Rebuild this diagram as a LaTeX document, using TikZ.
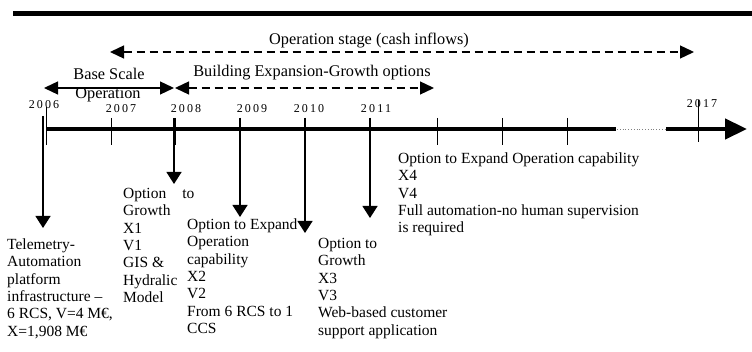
\documentclass[tikz,border=0pt]{standalone}
\usepackage{fontspec}
\setmainfont{Liberation Serif}
\newfontfamily\yearfont{Liberation Serif}[LetterSpace=18]
\usetikzlibrary{arrows.meta}

\newcommand{\firstline}{\rule{0pt}{12pt}}

\begin{document}
\begin{tikzpicture}[x=1pt,y=-1pt,
  blk/.style={anchor=north west, inner sep=0pt, align=left,
              font=\fontsize{15.5}{17.3}\selectfont},
  toplbl/.style={anchor=base, inner sep=0pt, font=\fontsize{16.3}{18.5}\selectfont},
  yr/.style={anchor=base, inner sep=0pt, font=\fontsize{12}{14}\selectfont\yearfont},
  spanarrow/.style={line width=1.3pt,
    {Triangle[length=14pt,width=13pt]}-{Triangle[length=14pt,width=13pt]}},
  dashspan/.style={spanarrow, dash pattern=on 8pt off 5pt},
  yeartick/.style={line width=1pt},
  droparrow/.style={line width=1.3pt, -{Triangle[length=12pt,width=15pt]}},
]
\useasboundingbox (0,0) rectangle (752,352);

% heading rule
\draw[line width=5pt] (13,14) -- (752,14);

% phase spans
\coordinate (opA) at (110,52);  \coordinate (opB) at (694,52);
\draw[dashspan] (opA) -- (opB);
\node[toplbl] (opLbl) at (369,45) {Operation stage (cash inflows)};

\coordinate (bsA) at (44,88);   \coordinate (bsB) at (174,88);
\draw[spanarrow] (bsA) -- (bsB);
\node[toplbl] (bsLbl1) at (109,80) {Base Scale};
\node[toplbl] (bsLbl2) at (108,99) {Operation};

\coordinate (bgA) at (175,88);  \coordinate (bgB) at (434,88);
\draw[dashspan] (bgA) -- (bgB);
\node[toplbl] (bgLbl) at (312,77) {Building Expansion-Growth options};

% time axis
\coordinate (axA) at (46,129);  \coordinate (axB) at (616,129);
\coordinate (axC) at (617,129); \coordinate (axD) at (666,129);
\coordinate (axE) at (747,129);
\draw[line width=4.5pt] (axA) -- (axB);
\draw[gray, line width=0.8pt, dotted] (axC) -- (axD);
\draw[line width=4.5pt, -{Triangle[length=22pt,width=20pt]}] (axD) -- (axE);

% year ticks
\draw[yeartick] (46,107) -- (46,145);
\foreach \tx in {111,175,240,305,370,437,502,567}
  \draw[yeartick] (\tx,118) -- (\tx,145);
\draw[yeartick] (698,100) -- (698,142);

% year labels
\node[yr] (y2006) at (44,109)  {2006};
\node[yr] (y2007) at (121,113) {2007};
\node[yr] (y2008) at (186,113) {2008};
\node[yr] (y2009) at (252,113) {2009};
\node[yr] (y2010) at (309,113) {2010};
\node[yr] (y2011) at (376,113) {2011};
\node[yr] (y2017) at (702,108) {2017};

% decision points
\coordinate (s06) at (43,116);  \coordinate (e06) at (43,228);
\coordinate (s08) at (174,118); \coordinate (e08) at (174,184);
\coordinate (s09) at (240,118); \coordinate (e09) at (240,217);
\coordinate (s10) at (305,118); \coordinate (e10) at (305,233);
\coordinate (s11) at (370,118); \coordinate (e11) at (370,218);
\draw[droparrow] (s06) -- (e06);
\draw[droparrow] (s08) -- (e08);
\draw[droparrow] (s09) -- (e09);
\draw[droparrow] (s10) -- (e10);
\draw[droparrow] (s11) -- (e11);

% option descriptions
\node[blk] (base) at (7,237.5) {\firstline Telemetry-\\Automation\\platform\\infrastructure –\\6 RCS, V=4 M€,\\X=1,908 M€};
\node[blk] (opt1) at (123,186.5) {\firstline Option\hspace{16pt}to\\Growth\\X1\\V1\\GIS \&\\Hydralic\\Model};
\node[blk] (opt2) at (187,217.5) {\firstline Option to Expand\\Operation\\capability\\X2\\V2\\From 6 RCS to 1\\CCS};
\node[blk] (opt3) at (318,236.5) {\firstline Option to\\Growth\\X3\\V3\\Web-based customer\\support application};
\node[blk] (opt4) at (398,151.5) {\firstline Option to Expand Operation capability\\X4\\V4\\Full automation-no human supervision\\is required};
\end{tikzpicture}
\end{document}
